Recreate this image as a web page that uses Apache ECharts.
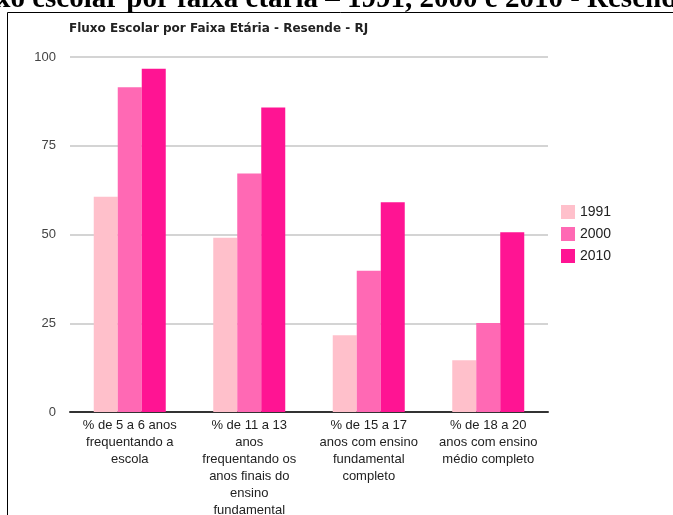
<!DOCTYPE html>
<html>
<head>
<meta charset="utf-8">
<script src="https://cdn.jsdelivr.net/npm/echarts@6/dist/echarts.min.js"></script>
<style>
  html, body { margin: 0; padding: 0; background: #fff; }
  #chart { width: 673px; height: 515px; }
</style>
</head>
<body>
<div id="chart"></div>
<script>
// Fluxo escolar por faixa etária – Resende (RJ), censos 1991, 2000 e 2010
const categories = [
  '% de 5 a 6 anos\nfrequentando a\nescola',
  '% de 11 a 13\nanos\nfrequentando os\nanos finais do\nensino\nfundamental',
  '% de 15 a 17\nanos com ensino\nfundamental\ncompleto',
  '% de 18 a 20\nanos com ensino\nmédio completo'
];
const years = ['1991', '2000', '2010'];
const values1991 = [60.6, 49.1, 21.6, 14.6];
const values2000 = [91.5, 67.2, 39.8, 25.1];
const values2010 = [96.7, 85.8, 59.1, 50.6];
const yTicks = [0, 25, 50, 75, 100];

const colors = ['#FFC0CB', '#FF69B4', '#FF1493'];
const seriesValues = [values1991, values2000, values2010];

const chart = echarts.init(document.getElementById('chart'), null, { renderer: 'canvas' });

chart.setOption({
  backgroundColor: '#fff',
  animation: false,
  textStyle: { fontFamily: 'Liberation Sans, Arial, sans-serif' },
  graphic: [
    {
      // page heading above the framed chart
      type: 'text',
      left: -46,
      top: -15,
      style: {
        text: 'Fluxo escolar por faixa etária – 1991, 2000 e 2010 - Resende - RJ',
        font: 'bold 29px "Liberation Serif", "Times New Roman", serif',
        fill: '#000'
      },
      z: 10
    },
    {
      // frame around the chart
      type: 'rect',
      shape: { x: 7.5, y: 12.5, width: 800, height: 600 },
      style: { fill: 'none', stroke: '#000', lineWidth: 1 },
      silent: true,
      z: 10
    }
  ],
  title: {
    text: 'Fluxo Escolar por Faixa Etária - Resende - RJ',
    left: 69,
    top: 23,
    padding: 0,
    textStyle: {
      fontSize: 12,
      fontWeight: 'bold',
      color: '#222',
      fontFamily: '"DejaVu Sans", sans-serif'
    }
  },
  legend: {
    orient: 'vertical',
    left: 561,
    top: 205,
    padding: 0,
    itemWidth: 14,
    itemHeight: 14,
    itemGap: 8,
    icon: 'rect',
    data: years,
    textStyle: { fontSize: 14, color: '#222' }
  },
  grid: {
    left: 70,
    right: 125,
    top: 57,
    bottom: 103,
    containLabel: false,
    outerBoundsMode: 'none'
  },
  xAxis: {
    type: 'category',
    data: categories,
    axisLine: { show: true, lineStyle: { color: '#333', width: 2 } },
    axisTick: { show: false },
    axisLabel: {
      interval: 0,
      color: '#222',
      fontSize: 13,
      lineHeight: 17,
      margin: 5,
      align: 'center'
    }
  },
  yAxis: {
    type: 'value',
    min: yTicks[0],
    max: yTicks[yTicks.length - 1],
    interval: yTicks[1] - yTicks[0],
    axisLine: { show: false },
    axisTick: { show: false },
    axisLabel: { color: '#444', fontSize: 13, margin: 14 },
    splitLine: { lineStyle: { color: '#d4d4d4', width: 2 } }
  },
  series: years.map((y, i) => ({
    name: y,
    type: 'bar',
    data: seriesValues[i],
    barWidth: 24,
    barGap: '0%',
    itemStyle: { color: colors[i] }
  }))
});
</script>
</body>
</html>
